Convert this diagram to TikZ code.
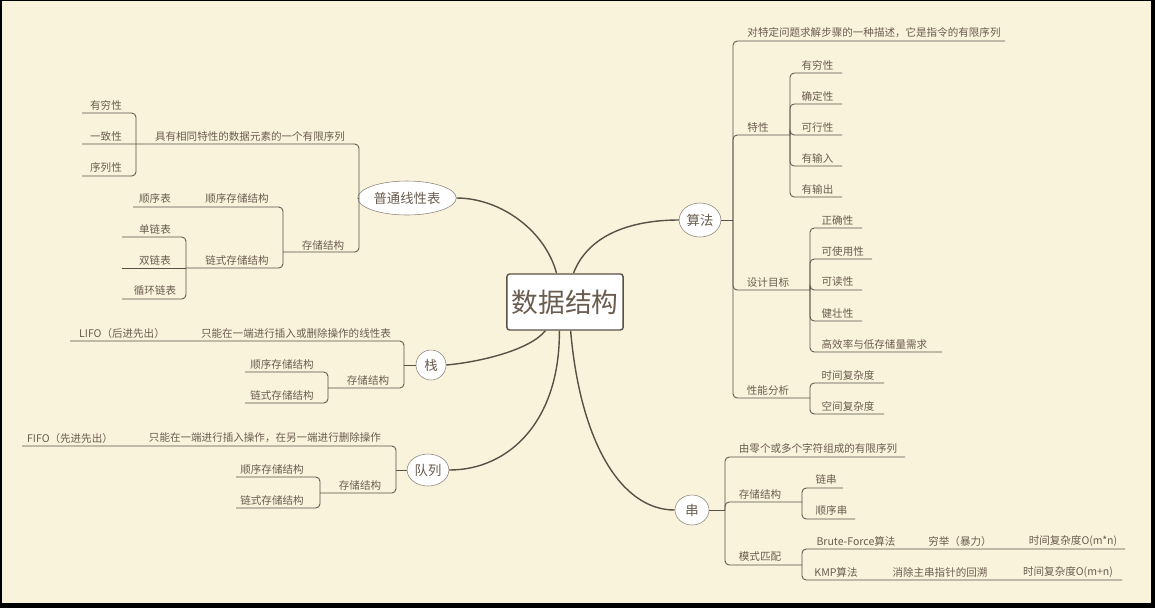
\documentclass[tikz,border=0pt]{standalone}
\usepackage{fontspec}
\setmainfont{Noto Sans CJK SC}
\usetikzlibrary{shapes.geometric}
\definecolor{bgpaper}{HTML}{FAF3DC}
\definecolor{inkline}{HTML}{5B5046}
\definecolor{inktext}{HTML}{6A5C4E}
\tikzset{
  leaf/.style={text=inktext,font=\fontsize{7.5}{8}\selectfont,inner sep=1pt},
  topic/.style={ellipse,draw=inkline!70,fill=white,text=inktext,font=\fontsize{9.5}{10}\selectfont,inner sep=1pt},
  wire/.style={inkline,line width=0.6pt,rounded corners=3pt},
  trunk/.style={inkline,line width=1pt}
}
\begin{document}
\begin{tikzpicture}[x=0.025cm,y=-0.025cm]
        \fill[black] (0,0) rectangle (1155,608);
        \fill[bgpaper] (2,1) rectangle (1151,603);
        % centre
        \node[draw=inkline,line width=1pt,fill=white,rounded corners=2pt,minimum width=2.75cm,minimum height=1.4cm,text=inktext,font=\fontsize{19}{20}\selectfont] (root) at (565,302) {数据结构};
        \node[topic,minimum width=1.0cm,minimum height=0.85cm] (algo) at (700,220) {算法};
        \node[topic,minimum width=0.85cm,minimum height=0.75cm] (str) at (692,510) {串};
        \node[topic,minimum width=1.9cm,minimum height=0.85cm] (list) at (407,198) {普通线性表};
        \node[topic,minimum width=0.75cm,minimum height=0.75cm] (stack) at (431,365) {栈};
        \node[topic,minimum width=0.95cm,minimum height=0.8cm] (queue) at (428,470) {队列};
        \draw[trunk] ([xshift=-6pt]root.north) .. controls (545,230) and (500,198) .. (list.east);
        \draw[trunk] ([xshift=6pt]root.north) .. controls (590,230) and (640,220) .. (algo.west);
        \draw[trunk] ([xshift=-14pt]root.south) .. controls (530,350) and (480,362) .. (stack.east);
        \draw[trunk] ([xshift=-4pt]root.south) .. controls (560,420) and (510,470) .. (queue.east);
        \draw[trunk] ([xshift=4pt]root.south) .. controls (580,440) and (620,510) .. (str.west);
        % 算法
        \draw[wire] (algo.east) -- (733,220);
        \foreach \y/\e in {41/1005,135/790,290/810,398/810}
            \draw[wire] (733,220) -- (733,\y) -- (\e,\y);
        \node[leaf] (a1) at (874,33) {对特定问题求解步骤的一种描述，它是指令的有限序列};
        \node[leaf] (a2) at (758,127) {特性};
        \node[leaf] (a3) at (768,282) {设计目标};
        \node[leaf] (a4) at (768,390) {性能分析};
        \foreach \t/\y in {有穷性/65,确定性/96,可行性/127,有输入/158,有输出/189}{
            \draw[wire] (790,135) -- (790,\y+8) -- (842,\y+8);
            \node[leaf,anchor=west] at (800,\y) {\t};
        }
        \foreach \t/\y/\e in {正确性/220/862,可使用性/251/872,可读性/282/862,健壮性/313/862,高效率与低存储量需求/344/942}{
            \draw[wire] (810,290) -- (810,\y+8) -- (\e,\y+8);
            \node[leaf,anchor=west] at (820,\y) {\t};
        }
        \foreach \t/\y in {时间复杂度/375,空间复杂度/406}{
            \draw[wire] (810,398) -- (810,\y+8) -- (884,\y+8);
            \node[leaf,anchor=west] at (820,\y) {\t};
        }
        % 串
        \draw[wire] (str.east) -- (725,510);
        \foreach \y/\e in {457/905,502/802,565/802}
            \draw[wire] (725,510) -- (725,\y) -- (\e,\y);
        \node[leaf] (s1) at (818,448) {由零个或多个字符组成的有限序列};
        \node[leaf] (s2) at (760,494) {存储结构};
        \node[leaf] (s3) at (760,556) {模式匹配};
        \draw[wire] (802,502) -- (802,488) -- (843,488);
        \draw[wire] (802,502) -- (802,519) -- (855,519);
        \node[leaf,anchor=west] (s21) at (814,479) {链串};
        \node[leaf,anchor=west] (s22) at (814,510) {顺序串};
        \draw[wire] (802,565) -- (802,549) -- (1125,549);
        \draw[wire] (802,565) -- (802,580) -- (1122,580);
        \node[leaf] (bf) at (856,541) {Brute-Force算法};
        \node[leaf] (bf1) at (960,541) {穷举（暴力）};
        \node[leaf] (bf2) at (1073,541) {时间复杂度O(m*n)};
        \node[leaf] (kmp) at (836,572) {KMP算法};
        \node[leaf] (kmp1) at (940,572) {消除主串指针的回溯};
        \node[leaf] (kmp2) at (1068,572) {时间复杂度O(m+n)};
        % 普通线性表
        \draw[wire] (list.west) -- (359,198);
        \draw[wire] (359,198) -- (359,144) -- (82,144);
        \draw[wire] (359,198) -- (359,252) -- (283,252);
        \node[leaf] (l1) at (250,136) {具有相同特性的数据元素的一个有限序列};
        \draw[wire] (136,144) -- (136,113) -- (82,113);
        \draw[wire] (136,144) -- (136,176) -- (82,176);
        \foreach \t/\y in {有穷性/105,一致性/136,序列性/167}
            \node[leaf] at (106,\y) {\t};
        \node[leaf] (l2) at (323,245) {存储结构};
        \draw[wire] (283,252) -- (283,207) -- (133,207);
        \draw[wire] (283,252) -- (283,268) -- (186,268);
        \node[leaf] (l21) at (237,198) {顺序存储结构};
        \node[leaf] (l22) at (237,260) {链式存储结构};
        \node[leaf] (l211) at (155,198) {顺序表};
        \draw[wire] (186,268) -- (186,237) -- (122,237);
        \draw[wire] (186,268) -- (122,268);
        \draw[wire] (186,268) -- (186,299) -- (122,299);
        \foreach \t/\y in {单链表/229,双链表/260,循环链表/291}
            \node[leaf] at (155,\y) {\t};
        % 栈
        \draw[wire] (stack.west) -- (404,365);
        \draw[wire] (404,365) -- (404,341) -- (70,341);
        \draw[wire] (404,365) -- (404,388) -- (328,388);
        \node[leaf] (k0) at (122,333) {LIFO（后进先出）};
        \node[leaf] (k1) at (296,333) {只能在一端进行插入或删除操作的线性表};
        \node[leaf] (k2) at (368,380) {存储结构};
        \draw[wire] (328,388) -- (328,372) -- (245,372);
        \draw[wire] (328,388) -- (328,403) -- (245,403);
        \node[leaf] (k21) at (282,364) {顺序存储结构};
        \node[leaf] (k22) at (282,395) {链式存储结构};
        % 队列
        \draw[wire] (queue.west) -- (396,470);
        \draw[wire] (396,470) -- (396,446) -- (22,446);
        \draw[wire] (396,470) -- (396,493) -- (320,493);
        \node[leaf] (q0) at (70,438) {FIFO（先进先出）};
        \node[leaf] (q1) at (265,438) {只能在一端进行插入操作，在另一端进行删除操作};
        \node[leaf] (q2) at (360,485) {存储结构};
        \draw[wire] (320,493) -- (320,477) -- (236,477);
        \draw[wire] (320,493) -- (320,508) -- (236,508);
        \node[leaf] (q21) at (272,469) {顺序存储结构};
        \node[leaf] (q22) at (272,500) {链式存储结构};
\end{tikzpicture}
\end{document}
